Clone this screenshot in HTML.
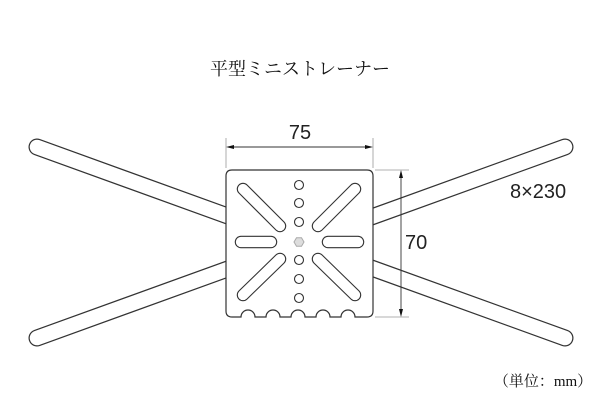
<!DOCTYPE html>
<html><head><meta charset="utf-8"><style>
html,body{margin:0;padding:0;background:#fff;width:600px;height:400px;overflow:hidden}
svg{display:block}
text{font-family:"Liberation Sans","Noto Sans CJK JP",sans-serif;fill:#222}
text.ser{font-family:"Liberation Serif","Noto Serif CJK SC",serif;fill:#111}
</style></head><body>
<svg width="600" height="400" viewBox="0 0 600 400" xmlns="http://www.w3.org/2000/svg">
<text class="ser" x="300" y="75" font-size="18" text-anchor="middle">平型ミニストレーナー</text>
<g stroke-linecap="round">
<line x1="37" y1="147" x2="565" y2="338" stroke="#333" stroke-width="17"/>
<line x1="37" y1="338" x2="565" y2="147" stroke="#333" stroke-width="17"/>
<line x1="37" y1="147" x2="565" y2="338" stroke="#fff" stroke-width="14.5"/>
<line x1="37" y1="338" x2="565" y2="147" stroke="#fff" stroke-width="14.5"/>
</g>
<path d="M232,170 H367 Q373,170 373,176 V311 Q373,317 367,317 H355 A7,7 0 0 0 341,317 H330 A7,7 0 0 0 316,317 H305 A7,7 0 0 0 291,317 H280 A7,7 0 0 0 266,317 H255 A7,7 0 0 0 241,317 H232 Q226,317 226,311 V176 Q226,170 232,170 Z" fill="#fff" stroke="#333" stroke-width="1.2"/>
<g fill="#fff" stroke="#333" stroke-width="1.1">
<circle cx="299" cy="185" r="4.5"/><circle cx="299" cy="203" r="4.5"/><circle cx="299" cy="222" r="4.5"/>
<circle cx="299" cy="260" r="4.5"/><circle cx="299" cy="279" r="4.5"/><circle cx="299" cy="298" r="4.5"/>
</g>
<polygon points="304,242 301.5,246.3 296.5,246.3 294,242 296.5,237.7 301.5,237.7" fill="#ddd" stroke="#aaa" stroke-width="1"/>
<g stroke-linecap="round">
<g stroke="#333" stroke-width="12.5">
<line x1="243" y1="189" x2="280" y2="226"/><line x1="355" y1="189" x2="318" y2="226"/>
<line x1="243" y1="295" x2="280" y2="259"/><line x1="355" y1="295" x2="318" y2="259"/>
<line x1="241" y1="242" x2="271" y2="242"/><line x1="328" y1="242" x2="358" y2="242"/>
</g>
<g stroke="#fff" stroke-width="10.3">
<line x1="243" y1="189" x2="280" y2="226"/><line x1="355" y1="189" x2="318" y2="226"/>
<line x1="243" y1="295" x2="280" y2="259"/><line x1="355" y1="295" x2="318" y2="259"/>
<line x1="241" y1="242" x2="271" y2="242"/><line x1="328" y1="242" x2="358" y2="242"/>
</g>
</g>
<g stroke="#999" stroke-width="0.8">
<line x1="226" y1="138" x2="226" y2="168"/><line x1="373" y1="138" x2="373" y2="168"/>
<line x1="375" y1="170" x2="409" y2="170"/><line x1="375" y1="317" x2="409" y2="317"/>
</g>
<g stroke="#333" stroke-width="0.9">
<line x1="230" y1="147" x2="369" y2="147"/>
<line x1="401" y1="174" x2="401" y2="313"/>
</g>
<g fill="#111">
<polygon points="226,147 234,145 234,149"/><polygon points="373,147 365,145 365,149"/>
<polygon points="401,170 399,178 403,178"/><polygon points="401,317 399,309 403,309"/>
</g>
<text x="300" y="139" font-size="20" text-anchor="middle">75</text>
<text x="405" y="249" font-size="20">70</text>
<text x="510" y="198" font-size="20">8×230</text>
<text class="ser" x="543" y="386" font-size="15" text-anchor="middle">（単位：mm）</text>
</svg>
</body></html>
